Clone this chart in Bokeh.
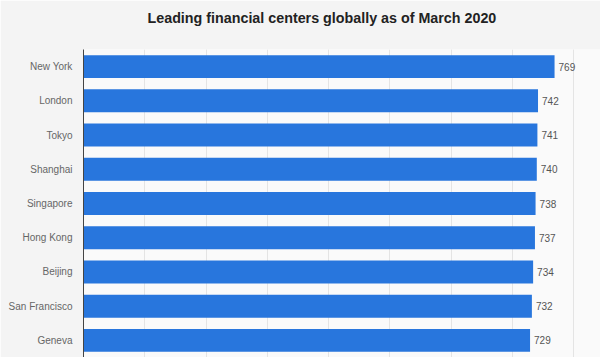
from bokeh.plotting import figure
from bokeh.models import FactorRange, Range1d, Grid, FixedTicker, Title
from bokeh.core.properties import value
from bokeh.embed import file_html
from bokeh.resources import INLINE

categories = ["New York", "London", "Tokyo", "Shanghai", "Singapore",
              "Hong Kong", "Beijing", "San Francisco", "Geneva"]
scores = [769, 742, 741, 740, 738, 737, 734, 732, 729]
x_ticks = [0, 100, 200, 300, 400, 500, 600, 700, 800]
title_text = "Leading financial centers globally as of March 2020"

FONT = "Liberation Sans"

p = figure(width=600, height=357, output_backend="svg", toolbar_location=None,
           y_range=FactorRange(factors=list(reversed(categories))),
           x_range=Range1d(0, 844), x_axis_location=None,
           min_border_left=83, min_border_right=0, min_border_top=0,
           min_border_bottom=0)

p.title = Title(text=title_text, align="left", offset=64, standoff=19,
                vertical_align="top")
p.title.text_font = FONT
p.title.text_font_size = "14.3px"
p.title.text_font_style = "bold"
p.title.text_color = "#222222"

# blank spacer between the title and the plotting area
p.add_layout(Title(text=" ", text_font_size="9px", standoff=0), "above")

p.background_fill_color = "#fafafa"
p.border_fill_color = "#f4f4f4"
p.outline_line_color = None

p.ygrid.grid_line_color = None
p.add_layout(Grid(dimension=0, ticker=FixedTicker(ticks=x_ticks),
                  grid_line_color="#e4e4e4", grid_line_width=1))

p.hbar(y=categories, right=scores, left=0, height=0.67,
       fill_color="#2876dd", line_color=None)

p.text(x=scores, y=categories, text=[str(v) for v in scores],
       x_offset=4, text_baseline="middle", text_align="left",
       text_font=value(FONT), text_font_size="10px", text_color="#555555")

ax = p.yaxis[0]
ax.major_tick_line_color = None
ax.minor_tick_line_color = None
ax.major_tick_out = 0
ax.major_tick_in = 0
ax.major_label_standoff = 11
ax.major_label_text_font = FONT
ax.major_label_text_font_size = "10px"
ax.major_label_text_color = "#666666"
ax.axis_line_color = "#444444"
ax.axis_line_width = 1

open("out.html", "w").write(file_html(p, INLINE))
